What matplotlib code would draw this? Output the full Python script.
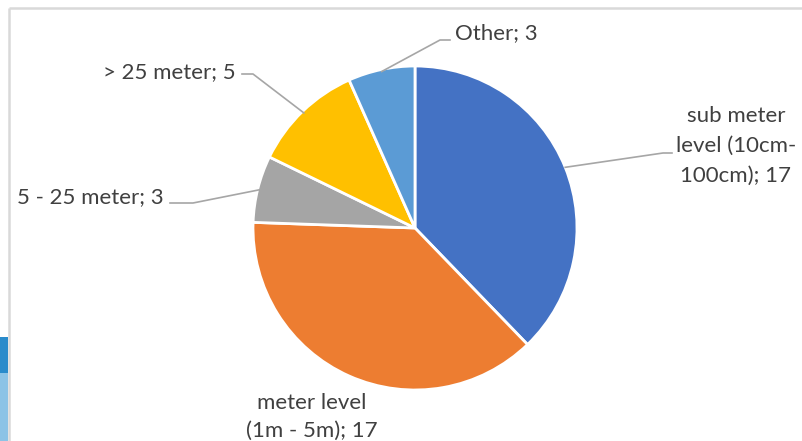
import matplotlib.pyplot as plt
from matplotlib.patches import Rectangle
import numpy as np

labels = ["sub meter\nlevel (10cm-\n100cm); 17", "meter level\n(1m - 5m); 17",
          "5 - 25 meter; 3", "> 25 meter; 5", "Other; 3"]
values = [17, 17, 3, 5, 3]
colors = ["#4472C4", "#ED7D31", "#A5A5A5", "#FFC000", "#5B9BD5"]

W, H = 803, 441
cx, cy, r = 415, H - 228, 162

plt.rcParams['font.family'] = ['Lato', 'DejaVu Sans']

fig = plt.figure(figsize=(W / 100, H / 100), dpi=100)
ax = fig.add_axes([0, 0, 1, 1])

wedges, _ = ax.pie(values, colors=colors, startangle=90, counterclock=False,
                   center=(cx, cy), radius=r, frame=True,
                   wedgeprops=dict(edgecolor='white', linewidth=2))
ax.set_xlim(0, W)
ax.set_ylim(0, H)
ax.set_aspect('equal')
ax.axis('off')

# chart area border (top and left edges show)
ax.plot([9, W], [H - 8, H - 8], color='#D9D9D9', lw=1.8, solid_capstyle='butt')
ax.plot([9.5, 9.5], [0, H - 8], color='#D9D9D9', lw=1.8, solid_capstyle='butt')

# piece of the neighbouring picture on the left edge
ax.add_patch(Rectangle((0, 0), 8.5, 68, color='#8CC3E6', lw=0))
ax.add_patch(Rectangle((0, 68), 8.5, 36, color='#2A8BCB', lw=0))


def edge_point(i, rr=r):
    # point on the outer rim at the middle of wedge i
    ang = np.deg2rad((wedges[i].theta1 + wedges[i].theta2) / 2)
    return cx + rr * np.cos(ang), cy + rr * np.sin(ang)


def y(p):
    return H - p


lc = '#A6A6A6'
tc = '#404040'
fs = 16

# sub meter level
x0, y0 = edge_point(0)
ax.plot([x0, 663, 672], [y0, y(153), y(153)], color=lc, lw=1.2)
ax.text(736, y(146), labels[0], ha='center', va='center', color=tc, fontsize=fs,
        linespacing=1.6)

# meter level
ax.text(312, y(417), labels[1], ha='center', va='center', color=tc, fontsize=fs,
        linespacing=1.5)

# 5 - 25 meter
x0, y0 = edge_point(2, r - 3)
ax.plot([170, 193, x0], [y(203), y(203), y0], color=lc, lw=1.2)
ax.text(164, y(197), labels[2], ha='right', va='center', color=tc, fontsize=fs)

# > 25 meter
x0, y0 = edge_point(3, r - 2)
ax.plot([242, 253, x0], [y(74), y(74), y0], color=lc, lw=1.2)
ax.text(236, y(72), labels[3], ha='right', va='center', color=tc, fontsize=fs)

# Other
x0, y0 = edge_point(4, r - 2)
ax.plot([x0, 440, 450], [y0, y(40), y(40)], color=lc, lw=1.2)
ax.text(455, y(33), labels[4], ha='left', va='center', color=tc, fontsize=fs)

fig.savefig('out.png', dpi=100, facecolor='white')
